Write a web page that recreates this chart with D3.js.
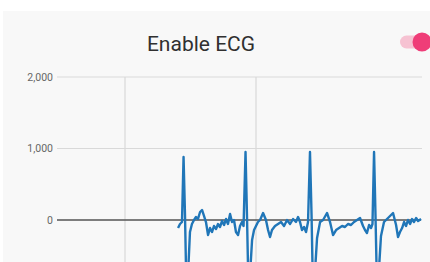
<!DOCTYPE html>
<html><head><meta charset="utf-8">
<script src="https://cdn.jsdelivr.net/npm/d3@7"></script>
<style>
html,body{margin:0;padding:0;background:#fff;overflow:hidden;}
svg{display:block;}
</style></head><body>
<svg id="chart" width="430" height="262"></svg>
<script>
// ECG samples: time (ms) and amplitude (µV)
const ecgTime = [2405,2420,2435,2447,2458,2469,2481,2496,2511,2527,2542,2557,2573,2588,2603,2618,2634,2649,2664,2679,2695,2710,2725,2741,2756,2771,2786,2802,2817,2832,2847,2863,2878,2893,2905,2920,2931,2943,2954,2970,2985,3000,3015,3031,3054,3076,3092,3107,3122,3145,3168,3191,3214,3237,3260,3283,3305,3321,3336,3351,3367,3382,3397,3412,3424,3435,3451,3466,3489,3512,3542,3565,3588,3611,3634,3657,3679,3702,3725,3748,3771,3794,3817,3832,3847,3863,3878,3889,3901,3912,3924,3939,3954,3977,4000,4023,4046,4069,4084,4099,4115,4130,4145,4160,4176,4191,4206,4222,4237,4260];
const ecgValue = [-112,-56,-28,882,70,-980,-770,-168,-56,0,42,14,112,140,56,-28,-210,-112,-168,-84,-126,-56,-98,-14,-70,14,-56,84,-28,0,-168,-210,-84,-28,-84,951,70,-1007,-770,-280,-140,-84,-28,0,98,0,-140,-238,-140,-84,-56,-28,-84,0,-56,14,-28,42,-28,-140,-98,-168,-28,951,70,-1007,-700,-252,-28,0,98,-28,-210,-140,-112,-84,-98,-56,-70,-28,0,28,-84,-140,-182,-70,-112,-56,951,70,-1007,-672,-224,-28,14,56,98,-70,-238,-168,-112,-28,-84,0,-56,14,-28,28,-14,14];
const yTicks = [0, 1000, 2000];
const yTickLabels = ["0", "1,000", "2,000"];
const xGridTicks = [2000, 3000];
const xDomain = [1481, 4267];
const title = "Enable ECG";

const svg = d3.select("#chart");
svg.append("rect").attr("x",3).attr("y",11).attr("width",427).attr("height",251).attr("fill","#f8f8f8");

const x = d3.scaleLinear().domain(xDomain).range([57, 422]);
const y = d3.scaleLinear().domain([0, 2000]).range([220, 77]);

// title
svg.append("text").attr("x",201).attr("y",50.5).attr("text-anchor","middle")
  .attr("font-family","Roboto, sans-serif").attr("font-size",21).attr("fill","#303030")
  .text(title);

// toggle switch
svg.append("rect").attr("x",400).attr("y",35.5).attr("width",26).attr("height",13).attr("rx",6.5)
  .attr("fill","#f6c2d2");
svg.append("circle").attr("cx",422).attr("cy",42).attr("r",9.5).attr("fill","#ef3d78");

// horizontal grid
svg.append("g").selectAll("line").data(yTicks.filter(d=>d!==0)).join("line")
  .attr("x1",57).attr("x2",422).attr("y1",d=>y(d)).attr("y2",d=>y(d))
  .attr("stroke","#d9d9d9").attr("stroke-width",1.2);
// vertical grid
svg.append("g").selectAll("line").data(xGridTicks).join("line")
  .attr("x1",d=>x(d)).attr("x2",d=>x(d)).attr("y1",y(2000)).attr("y2",262)
  .attr("stroke","#d9d9d9").attr("stroke-width",1.2);

// y labels
svg.append("g").selectAll("text").data(yTicks).join("text")
  .attr("x",53).attr("y",d=>y(d)+3.8).attr("text-anchor","end")
  .attr("font-family","Roboto, sans-serif").attr("font-size",10.5).attr("fill","#666")
  .text((d,i)=>yTickLabels[i]);

// zero line
svg.append("line").attr("x1",57).attr("x2",421).attr("y1",y(0)).attr("y2",y(0))
  .attr("stroke","#555").attr("stroke-width",1.6);

// ECG line
const pts = ecgTime.map((t,i)=>[t, ecgValue[i]]);
svg.append("path").datum(pts)
  .attr("fill","none").attr("stroke","#2076b8").attr("stroke-width",2.4)
  .attr("stroke-linejoin","round")
  .attr("d", d3.line().x(d=>x(d[0])).y(d=>y(d[1])));
</script>
</body></html>
